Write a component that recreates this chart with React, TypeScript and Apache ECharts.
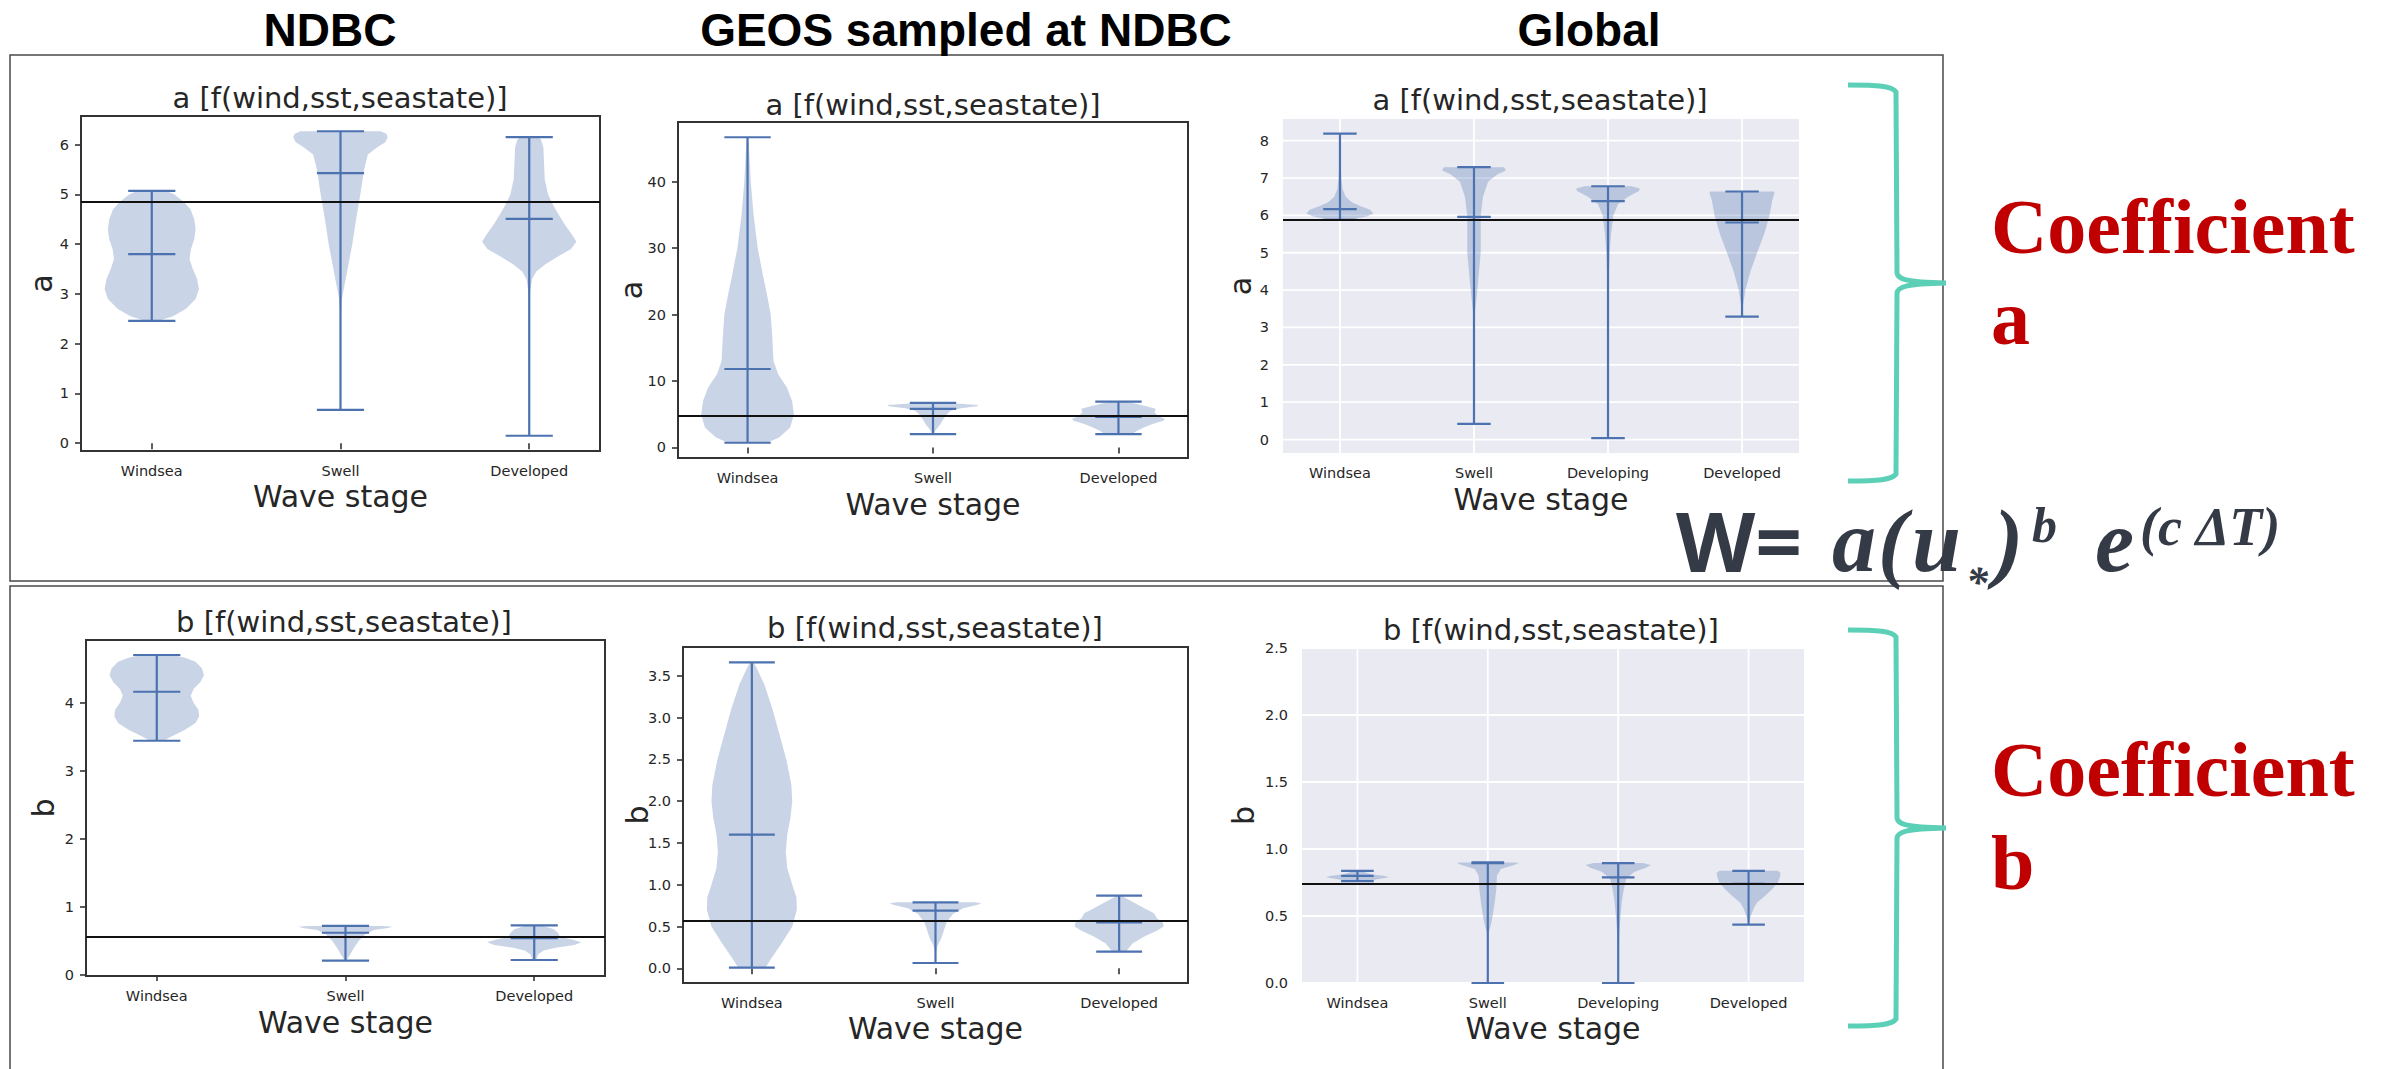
import React, { useEffect, useRef } from "react";
import * as echarts from "echarts";

// ---------- data ----------
const cats3 = ["Windsea", "Swell", "Developed"];
const cats4 = ["Windsea", "Swell", "Developing", "Developed"];

// NDBC, coefficient a
const ndbcA_min = [2.46, 0.67, 0.15];
const ndbcA_max = [5.07, 6.27, 6.15];
const ndbcA_mid = [3.8, 5.43, 4.51];
const ndbcA_ref = 4.85;
const ndbcA_ticks = [0, 1, 2, 3, 4, 5, 6];
const ndbcA_shape = [
  [[2.46, 0.15], [2.55, 0.45], [2.7, 0.72], [2.9, 0.93], [3.1, 1.0], [3.3, 0.96], [3.5, 0.87], [3.7, 0.8], [3.9, 0.83], [4.1, 0.9], [4.3, 0.93], [4.5, 0.9], [4.7, 0.82], [4.85, 0.68], [5.0, 0.48], [5.07, 0.32]],
  [[0.67, 0.0], [2.5, 0.005], [2.9, 0.03], [3.2, 0.09], [3.6, 0.17], [4.0, 0.25], [4.5, 0.33], [5.0, 0.42], [5.5, 0.5], [5.8, 0.58], [5.95, 0.78], [6.05, 0.95], [6.15, 1.0], [6.22, 0.97], [6.27, 0.85]],
  [[0.15, 0.0], [3.0, 0.01], [3.3, 0.06], [3.45, 0.15], [3.6, 0.35], [3.75, 0.6], [3.9, 0.88], [4.05, 1.0], [4.2, 0.9], [4.4, 0.75], [4.6, 0.62], [4.8, 0.5], [5.0, 0.4], [5.3, 0.33], [5.7, 0.31], [5.95, 0.3], [6.1, 0.25], [6.15, 0.2]],
];

// GEOS sampled at NDBC, coefficient a
const geosA_min = [0.7, 2.0, 2.0];
const geosA_max = [46.7, 6.7, 6.9];
const geosA_mid = [11.8, 5.8, 4.6];
const geosA_ref = 4.7;
const geosA_ticks = [0, 10, 20, 30, 40];
const geosA_shape = [
  [[0.7, 0.42], [1.5, 0.68], [3, 0.92], [5, 1.0], [7, 0.96], [9, 0.85], [11, 0.66], [13, 0.56], [17, 0.53], [20, 0.5], [23, 0.42], [26, 0.33], [30, 0.22], [35, 0.13], [40, 0.07], [46.7, 0.02]],
  [[2.0, 0.02], [2.5, 0.05], [3, 0.1], [3.5, 0.16], [4, 0.2], [4.5, 0.25], [5, 0.3], [5.5, 0.38], [5.9, 0.6], [6.2, 0.95], [6.4, 0.98], [6.6, 0.5], [6.7, 0.2]],
  [[2.0, 0.3], [2.5, 0.4], [3.0, 0.55], [3.5, 0.72], [4.0, 0.97], [4.3, 1.0], [4.7, 0.85], [5.3, 0.78], [5.8, 0.8], [6.2, 0.6], [6.6, 0.35], [6.9, 0.15]],
];

// Global, coefficient a
const globA_min = [5.88, 0.42, 0.04, 3.29];
const globA_max = [8.19, 7.29, 6.78, 6.64];
const globA_mid = [6.17, 5.96, 6.38, 5.81];
const globA_ref = 5.87;
const globA_ticks = [0, 1, 2, 3, 4, 5, 6, 7, 8];
const globA_shape = [
  [[5.88, 0.3], [5.97, 0.8], [6.05, 1.0], [6.15, 0.9], [6.25, 0.6], [6.35, 0.35], [6.5, 0.17], [6.7, 0.08], [7.0, 0.04], [7.5, 0.02], [8.19, 0.01]],
  [[0.42, 0.0], [3.2, 0.005], [3.5, 0.04], [4.0, 0.1], [4.5, 0.15], [5.0, 0.2], [5.5, 0.2], [6.0, 0.2], [6.5, 0.27], [6.9, 0.42], [7.1, 0.7], [7.2, 0.95], [7.29, 0.9]],
  [[0.04, 0.0], [3.5, 0.005], [4.5, 0.03], [5.0, 0.05], [5.5, 0.09], [6.0, 0.16], [6.3, 0.3], [6.5, 0.6], [6.65, 0.92], [6.72, 0.95], [6.78, 0.7]],
  [[3.29, 0.01], [3.6, 0.03], [4.0, 0.1], [4.5, 0.25], [5.0, 0.45], [5.5, 0.66], [6.0, 0.82], [6.4, 0.9], [6.6, 0.97], [6.64, 0.95]],
];

// NDBC, coefficient b
const ndbcB_min = [3.44, 0.21, 0.22];
const ndbcB_max = [4.7, 0.72, 0.73];
const ndbcB_mid = [4.16, 0.62, 0.54];
const ndbcB_ref = 0.563;
const ndbcB_ticks = [0, 1, 2, 3, 4];
const ndbcB_shape = [
  [[3.44, 0.15], [3.5, 0.3], [3.6, 0.6], [3.7, 0.82], [3.8, 0.9], [3.9, 0.88], [4.0, 0.78], [4.1, 0.72], [4.2, 0.78], [4.3, 0.92], [4.4, 1.0], [4.5, 0.96], [4.6, 0.82], [4.66, 0.6], [4.7, 0.35]],
  [[0.21, 0.02], [0.25, 0.05], [0.3, 0.1], [0.4, 0.18], [0.5, 0.28], [0.6, 0.42], [0.66, 0.6], [0.69, 0.9], [0.71, 1.0], [0.72, 0.8]],
  [[0.22, 0.04], [0.3, 0.08], [0.36, 0.2], [0.4, 0.45], [0.44, 0.85], [0.48, 1.0], [0.52, 0.8], [0.56, 0.55], [0.62, 0.5], [0.67, 0.42], [0.71, 0.25], [0.73, 0.12]],
];

// GEOS sampled at NDBC, coefficient b
const geosB_min = [0.01, 0.064, 0.2];
const geosB_max = [3.66, 0.79, 0.87];
const geosB_mid = [1.6, 0.69, 0.55];
const geosB_ref = 0.567;
const geosB_ticks = [0, 0.5, 1, 1.5, 2, 2.5, 3, 3.5];
const geosB_shape = [
  [[0.01, 0.3], [0.1, 0.4], [0.3, 0.65], [0.5, 0.88], [0.7, 0.98], [0.85, 0.97], [1.0, 0.88], [1.2, 0.77], [1.4, 0.74], [1.6, 0.77], [1.8, 0.84], [2.0, 0.88], [2.2, 0.86], [2.5, 0.75], [2.8, 0.6], [3.1, 0.45], [3.4, 0.27], [3.6, 0.1], [3.66, 0.04]],
  [[0.064, 0.0], [0.2, 0.01], [0.28, 0.05], [0.35, 0.12], [0.45, 0.18], [0.55, 0.24], [0.65, 0.38], [0.72, 0.6], [0.76, 0.92], [0.78, 1.0], [0.79, 0.85]],
  [[0.2, 0.15], [0.25, 0.22], [0.3, 0.3], [0.38, 0.55], [0.45, 0.82], [0.5, 0.97], [0.55, 0.95], [0.6, 0.82], [0.66, 0.76], [0.72, 0.55], [0.78, 0.35], [0.83, 0.18], [0.87, 0.05]],
];

// Global, coefficient b
const globB_min = [0.76, 0.0, 0.0, 0.436];
const globB_max = [0.837, 0.9, 0.895, 0.837];
const globB_mid = [0.8, 0.895, 0.788, 0.74];
const globB_ref = 0.738;
const globB_ticks = [0, 0.5, 1, 1.5, 2, 2.5];
const globB_shape = [
  [[0.76, 0.3], [0.775, 0.6], [0.79, 0.97], [0.8, 0.8], [0.81, 0.45], [0.825, 0.25], [0.837, 0.1]],
  [[0.0, 0.0], [0.34, 0.005], [0.38, 0.03], [0.42, 0.08], [0.5, 0.15], [0.6, 0.21], [0.7, 0.26], [0.8, 0.28], [0.85, 0.4], [0.88, 0.8], [0.895, 0.95], [0.9, 0.85]],
  [[0.0, 0.0], [0.2, 0.005], [0.3, 0.02], [0.4, 0.04], [0.5, 0.07], [0.6, 0.11], [0.7, 0.17], [0.78, 0.25], [0.83, 0.5], [0.86, 0.85], [0.88, 1.0], [0.895, 0.75]],
  [[0.436, 0.01], [0.48, 0.04], [0.52, 0.1], [0.56, 0.16], [0.6, 0.26], [0.65, 0.5], [0.7, 0.72], [0.75, 0.9], [0.8, 0.97], [0.82, 0.98], [0.837, 0.9]],
];

const headers = ["NDBC", "GEOS sampled at NDBC", "Global"];
const panelTitles = ["a [f(wind,sst,seastate)]", "b [f(wind,sst,seastate)]"];

// ---------- style ----------
const TXT = "#262626";
const BODY = "rgba(76,114,176,0.3)";
const LINE = "#4C72B0";
const MPL = "DejaVu Sans";

type Panel = {
  box: [number, number, number, number];
  xr: [number, number];
  yr: [number, number];
  cats: string[];
  ticks: number[];
  fmt: (v: number) => string;
  mins: number[];
  maxs: number[];
  mids: number[];
  shapes: number[][][];
  ref: number;
  global: boolean;
  ylab: string;
  title: string;
  titlePos: [number, number];
  xGap: number;
  yGap: number;
};

const int = (v: number) => String(Math.round(v));
const dec1 = (v: number) => v.toFixed(1);

const panels: Panel[] = [
  { box: [81, 116, 519, 335], xr: [0.625, 3.375], yr: [-0.156, 6.576], cats: cats3, ticks: ndbcA_ticks, fmt: int,
    mins: ndbcA_min, maxs: ndbcA_max, mids: ndbcA_mid, shapes: ndbcA_shape, ref: ndbcA_ref, global: false,
    ylab: "a", title: panelTitles[0], titlePos: [340, 98], xGap: 30, yGap: 25 },
  { box: [678, 122, 510, 336], xr: [0.625, 3.375], yr: [-1.6, 49.0], cats: cats3, ticks: geosA_ticks, fmt: int,
    mins: geosA_min, maxs: geosA_max, mids: geosA_mid, shapes: geosA_shape, ref: geosA_ref, global: false,
    ylab: "a", title: panelTitles[0], titlePos: [933, 105], xGap: 31, yGap: 32 },
  { box: [1283, 119, 516, 334], xr: [0.575, 4.425], yr: [-0.36, 8.58], cats: cats4, ticks: globA_ticks, fmt: int,
    mins: globA_min, maxs: globA_max, mids: globA_mid, shapes: globA_shape, ref: globA_ref, global: true,
    ylab: "a", title: panelTitles[0], titlePos: [1540, 100], xGap: 31, yGap: 28 },
  { box: [86, 640, 519, 336], xr: [0.625, 3.375], yr: [-0.015, 4.92], cats: cats3, ticks: ndbcB_ticks, fmt: int,
    mins: ndbcB_min, maxs: ndbcB_max, mids: ndbcB_mid, shapes: ndbcB_shape, ref: ndbcB_ref, global: false,
    ylab: "b", title: panelTitles[1], titlePos: [344, 622], xGap: 31, yGap: 28 },
  { box: [683, 647, 505, 336], xr: [0.625, 3.375], yr: [-0.175, 3.845], cats: cats3, ticks: geosB_ticks, fmt: dec1,
    mins: geosB_min, maxs: geosB_max, mids: geosB_mid, shapes: geosB_shape, ref: geosB_ref, global: false,
    ylab: "b", title: panelTitles[1], titlePos: [935, 628], xGap: 30, yGap: 31 },
  { box: [1302, 648, 502, 335], xr: [0.575, 4.425], yr: [0, 2.5], cats: cats4, ticks: globB_ticks, fmt: dec1,
    mins: globB_min, maxs: globB_max, mids: globB_mid, shapes: globB_shape, ref: globB_ref, global: true,
    ylab: "b", title: panelTitles[1], titlePos: [1551, 630], xGap: 30, yGap: 44 },
];

const bracePath =
  "M0,0 C30,0 44,1 48,7 L49,188 C50,194 56,197 98,198 C56,199 50,202 49,208 L48,389 C44,395 30,396 0,396";
echarts.graphic.registerShape("brace", echarts.graphic.extendPath(bracePath, {}) as any);

function buildOption() {
  const grid: any[] = [];
  const xAxis: any[] = [];
  const yAxis: any[] = [];
  const series: any[] = [];

  panels.forEach((p, gi) => {
    const [l, t, w, h] = p.box;
    const xTicks = p.cats.map((_, i) => i + 1);
    grid.push({
      left: l, top: t, width: w, height: h, show: true,
      backgroundColor: p.global ? "#EAEAF2" : "transparent",
      borderColor: p.global ? "transparent" : "#333",
      borderWidth: p.global ? 0 : 2,
      containLabel: false, outerBoundsMode: "none",
    });
    xAxis.push({
      gridIndex: gi, type: "value", min: p.xr[0], max: p.xr[1],
      splitLine: { show: false }, axisLine: { show: false },
      axisTick: { show: !p.global, customValues: xTicks, length: 6, lineStyle: { color: "#333", width: 1.6 } },
      axisLabel: { customValues: xTicks, formatter: (v: number) => p.cats[Math.round(v) - 1] || "",
        margin: 12, color: TXT, fontSize: 14.5, fontFamily: MPL },
      name: "Wave stage", nameLocation: "middle", nameGap: p.xGap, nameMoveOverlap: false,
      nameTextStyle: { fontSize: 30, color: TXT, fontFamily: MPL },
    });
    yAxis.push({
      gridIndex: gi, type: "value", min: p.yr[0], max: p.yr[1],
      splitLine: { show: false }, axisLine: { show: false },
      axisTick: { show: !p.global, customValues: p.ticks, length: 6, lineStyle: { color: "#333", width: 1.6 } },
      axisLabel: { customValues: p.ticks, formatter: (v: number) => p.fmt(v),
        margin: p.global ? 14 : 12, color: TXT, fontSize: 14.5, fontFamily: MPL },
      name: p.ylab, nameLocation: "middle", nameGap: p.yGap, nameMoveOverlap: false,
      nameTextStyle: { fontSize: 30, color: TXT, fontFamily: MPL },
    });

    if (p.global) {
      const data = xTicks.map((v) => [v, 0, 0]).concat(p.ticks.map((v) => [1, v, 1]));
      series.push({
        type: "custom", coordinateSystem: "cartesian2d", xAxisIndex: gi, yAxisIndex: gi,
        silent: true, z: 1, data,
        renderItem: (params: any, api: any) => {
          const cs = params.coordSys;
          const pt = api.coord([api.value(0), api.value(1)]);
          const vert = api.value(2) === 0;
          const shape = vert
            ? { x1: pt[0], y1: cs.y, x2: pt[0], y2: cs.y + cs.height }
            : { x1: cs.x, y1: pt[1], x2: cs.x + cs.width, y2: pt[1] };
          return { type: "line", shape, style: { stroke: "#ffffff", lineWidth: 1.8 } };
        },
      });
    }

    series.push({
      type: "custom", coordinateSystem: "cartesian2d", xAxisIndex: gi, yAxisIndex: gi,
      silent: true, z: 2,
      data: p.mins.map((m, i) => [i + 1, m, p.maxs[i], p.mids[i]]),
      renderItem: (params: any, api: any) => {
        const i = params.dataIndex;
        const pos = api.value(0);
        const lo = api.value(1);
        const hi = api.value(2);
        const mid = api.value(3);
        const prof = p.shapes[i];
        const left = prof.map(([v, wd]) => api.coord([pos - wd * 0.25, v]));
        const right = prof.slice().reverse().map(([v, wd]) => api.coord([pos + wd * 0.25, v]));
        const c = (x: number, y: number) => api.coord([x, y]);
        const seg = (a: number[], b: number[]) => ({
          type: "line", shape: { x1: a[0], y1: a[1], x2: b[0], y2: b[1] },
          style: { stroke: LINE, lineWidth: 2.2 },
        });
        return {
          type: "group",
          children: [
            { type: "polygon", shape: { points: left.concat(right) }, style: { fill: BODY } },
            seg(c(pos, lo), c(pos, hi)),
            seg(c(pos - 0.125, lo), c(pos + 0.125, lo)),
            seg(c(pos - 0.125, hi), c(pos + 0.125, hi)),
            seg(c(pos - 0.125, mid), c(pos + 0.125, mid)),
          ],
        };
      },
      markLine: {
        silent: true, symbol: "none", label: { show: false },
        lineStyle: { color: "#111", width: 2, type: "solid" },
        emphasis: { disabled: true },
        data: [{ yAxis: p.ref }],
      },
    });
  });

  const graphic: any[] = [];
  // row frames
  graphic.push({ type: "rect", shape: { x: 10, y: 55, width: 1933, height: 526 }, style: { fill: "none", stroke: "#4a4a4a", lineWidth: 1.5 }, z: 0 });
  graphic.push({ type: "rect", shape: { x: 10, y: 586, width: 1933, height: 500 }, style: { fill: "none", stroke: "#4a4a4a", lineWidth: 1.5 }, z: 0 });
  // headers
  const hx = [330, 966, 1589];
  headers.forEach((t, i) => {
    graphic.push({ type: "text", x: hx[i], y: 30, style: { text: t, fontSize: 46, fontWeight: "bold", fontFamily: "Liberation Sans", fill: "#000", align: "center", verticalAlign: "middle" } });
  });
  // panel titles
  panels.forEach((p) => {
    graphic.push({ type: "text", x: p.titlePos[0], y: p.titlePos[1], style: { text: p.title, fontSize: 29, fontFamily: MPL, fill: TXT, align: "center", verticalAlign: "middle" } });
  });
  // braces
  [85, 630].forEach((y) => {
    graphic.push({ type: "brace", x: 1848, y, style: { fill: "none", stroke: "#5CCFB7", lineWidth: 5 } });
  });
  // coefficient labels
  const coef = [
    ["Coefficient", 226], ["a", 317], ["Coefficient", 769], ["b", 862],
  ] as [string, number][];
  coef.forEach(([t, y]) => {
    graphic.push({ type: "text", x: 1991, y, style: { text: t, fontSize: 78, fontWeight: "bold", fontFamily: "Liberation Serif", fill: "#C00000", align: "left", verticalAlign: "middle" } });
  });
  // formula
  const FC = "#353B46";
  const mathFont = "Liberation Serif";
  graphic.push({ type: "text", x: 1676, y: 540, style: { text: "W=", fontSize: 82, fontWeight: "bold", fontFamily: "Open Sans", fill: FC, align: "left", verticalAlign: "middle" } });
  const glyphs = [
    ["a", 1832, 541, 88], ["(", 1878, 541, 88], ["u", 1912, 541, 88], ["*", 1966, 582, 44],
    [")", 1994, 541, 88], ["b", 2032, 525, 50], ["e", 2095, 541, 88], ["(c \u0394T)", 2140, 527, 54],
  ] as [string, number, number, number][];
  glyphs.forEach(([t, x, y, s]) => {
    graphic.push({ type: "text", x, y, style: { text: t, fontSize: s, fontWeight: "bold", fontStyle: "italic", fontFamily: mathFont, fill: FC, align: "left", verticalAlign: "middle" } });
  });

  return { animation: false, backgroundColor: "#ffffff", grid, xAxis, yAxis, series, graphic };
}

export default function App() {
  const ref = useRef<HTMLDivElement>(null);
  useEffect(() => {
    document.body.style.margin = "0";
    document.body.style.overflow = "hidden";
    if (!ref.current) return;
    const chart = echarts.init(ref.current, null, { renderer: "svg" });
    chart.setOption(buildOption() as any);
    return () => chart.dispose();
  }, []);
  return <div ref={ref} style={{ width: 2385, height: 1069 }} />;
}
